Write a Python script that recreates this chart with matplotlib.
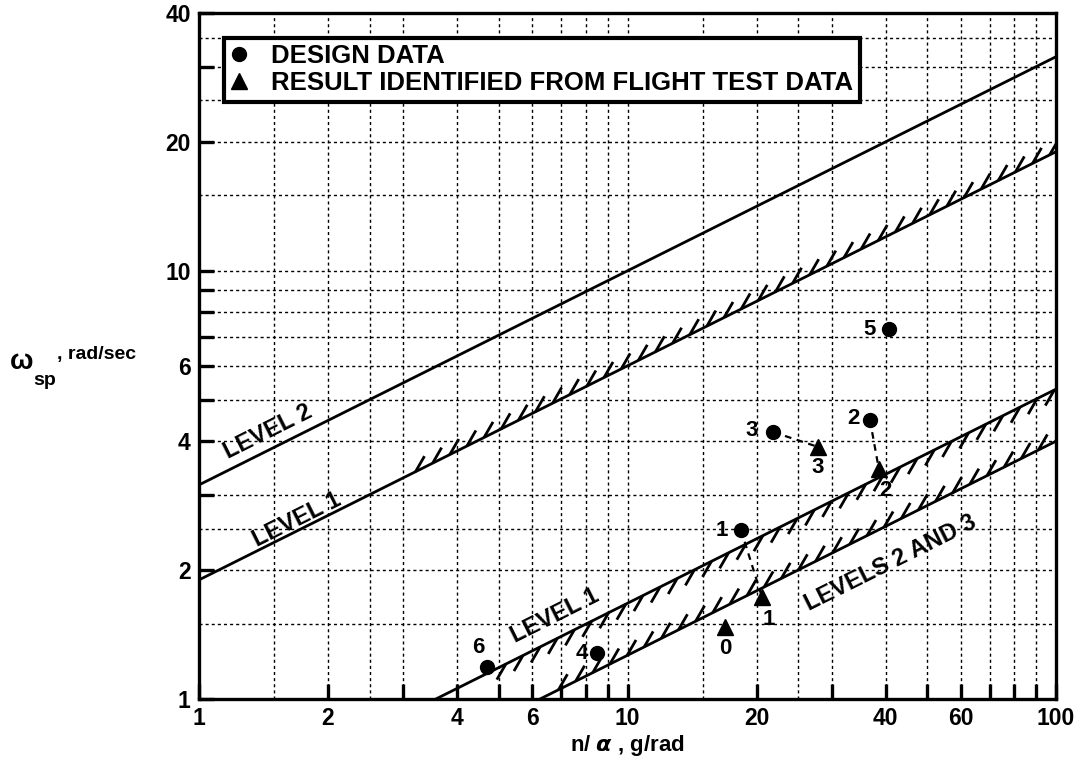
import numpy as np
import matplotlib
matplotlib.use('Agg')
import matplotlib.pyplot as plt
from matplotlib.collections import LineCollection
from matplotlib.lines import Line2D

plt.rcParams['font.family'] = ['Liberation Sans', 'DejaVu Sans']
plt.rcParams['font.weight'] = 'bold'
plt.rcParams['mathtext.default'] = 'regular'

# boundary lines, omega_sp = sqrt(CAP * n/alpha)
cap_level2_upper = 10.0
cap_level1_upper = 3.6
cap_level1_lower = 0.28
cap_level23_lower = 0.16

# design data (circles)
design_ids = ['1', '2', '3', '4', '5', '6']
design_n_alpha = [18.4, 36.8, 21.9, 8.5, 40.8, 4.7]
design_omega = [2.48, 4.48, 4.20, 1.28, 7.31, 1.19]

# identified from flight test (triangles)
flight_ids = ['0', '1', '2', '3']
flight_n_alpha = [16.9, 20.6, 38.6, 27.8]
flight_omega = [1.47, 1.73, 3.44, 3.88]

# design point -> flight point
pairs = [('1', '1'), ('2', '2'), ('3', '3')]

x_ticks = [1, 2, 4, 6, 10, 20, 40, 60, 100]
x_minor = [3, 5, 7, 8, 9, 30, 50, 70, 80, 90]
y_ticks = [1, 2, 4, 6, 10, 20, 40]
y_minor = [3, 5, 7, 8, 9, 30]
x_grid = [1.5, 2, 2.5, 3, 4, 5, 6, 7, 8, 9, 10, 15, 20, 25, 30, 40, 50, 60, 70, 80, 90]
y_grid = [1.5, 2, 2.5, 3, 4, 5, 6, 7, 8, 9, 10, 15, 20, 25, 30, 35]

fig = plt.figure(figsize=(10.87, 7.65), dpi=100)
ax = fig.add_axes([0.1831, 0.0863, 0.7884, 0.8967])
ax.set_xscale('log')
ax.set_yscale('log')
ax.set_xlim(1, 100)
ax.set_ylim(1, 40)

for v in x_grid:
    ax.axvline(v, color='black', lw=1.0, ls=(0, (2.2, 2.2)), zorder=1)
for v in y_grid:
    ax.axhline(v, color='black', lw=1.0, ls=(0, (2.2, 2.2)), zorder=1)

xx = np.array([1.0, 100.0])
for cap in [cap_level2_upper, cap_level1_upper, cap_level1_lower, cap_level23_lower]:
    ax.plot(xx, np.sqrt(cap * xx), color='black', lw=2.0, zorder=3)


def hatch(cap, x_start, side, step=0.04, length=0.042, ang=60):
    # short slanted strokes along a boundary, computed in log space
    segs = []
    a = np.radians(ang)
    for lx in np.arange(np.log10(x_start), 2.0, step):
        ly = 0.5 * np.log10(cap) + 0.5 * lx
        lx2 = lx + side * length * np.cos(a)
        ly2 = ly + side * length * np.sin(a)
        segs.append([(10 ** lx, 10 ** ly), (10 ** lx2, 10 ** ly2)])
    ax.add_collection(LineCollection(segs, colors='black', linewidths=2.0, zorder=3))


hatch(cap_level1_upper, 3.2, +1)
hatch(cap_level1_lower, 5.2, -1)
hatch(cap_level23_lower, 6.9, +1)

# dashed links design -> flight
for d, f in pairs:
    i = design_ids.index(d)
    j = flight_ids.index(f)
    ax.plot([design_n_alpha[i], flight_n_alpha[j]], [design_omega[i], flight_omega[j]],
            color='black', lw=1.6, ls=(0, (3, 2.5)), zorder=4)

ax.plot(design_n_alpha, design_omega, 'o', color='black', ms=10, zorder=5)
ax.plot(flight_n_alpha, flight_omega, '^', color='black', ms=11, zorder=5)

design_off = {'1': (-14, 0), '2': (-12, 1), '3': (-16, 1), '4': (-11, 0), '5': (-14, 0), '6': (-6, 14)}
flight_off = {'0': (0, -15), '1': (5, -16), '2': (5, -15), '3': (0, -15)}
for k, x, y in zip(design_ids, design_n_alpha, design_omega):
    ax.annotate(k, (x, y), xytext=design_off[k], textcoords='offset points',
                ha='center', va='center', fontsize=16, fontweight='bold', zorder=6)
for k, x, y in zip(flight_ids, flight_n_alpha, flight_omega):
    ax.annotate(k, (x, y), xytext=flight_off[k], textcoords='offset points',
                ha='center', va='center', fontsize=16, fontweight='bold', zorder=6)

# boundary labels
rot = np.degrees(np.arctan(0.5))
lab_kw = dict(rotation=rot, ha='center', va='center', fontsize=17, fontweight='bold', rotation_mode='anchor')
ax.text(1.45, 4.2, 'LEVEL 2', **lab_kw)
ax.text(1.69, 2.62, 'LEVEL 1', **lab_kw)
ax.text(6.77, 1.56, 'LEVEL 1', **lab_kw)
ax.text(41.0, 2.08, 'LEVELS 2 AND 3', **lab_kw)

# axes, ticks
for s in ax.spines.values():
    s.set_linewidth(2.4)
ax.set_xticks(x_ticks)
ax.set_xticklabels([str(v) for v in x_ticks])
ax.set_xticks(x_minor, minor=True)
ax.set_yticks(y_ticks)
ax.set_yticklabels([str(v) for v in y_ticks])
ax.set_yticks(y_minor, minor=True)
ax.xaxis.set_minor_formatter(matplotlib.ticker.NullFormatter())
ax.yaxis.set_minor_formatter(matplotlib.ticker.NullFormatter())
ax.tick_params(which='both', direction='in', length=11, width=2.4, labelsize=16.5, pad=6)
for lab in ax.get_xticklabels() + ax.get_yticklabels():
    lab.set_fontweight('bold')

ax.set_xlabel(r'n/ $\mathit{\alpha}$ , g/rad', fontsize=16, fontweight='bold', labelpad=2)
fig.text(0.008, 0.527, r'$\omega$', fontsize=20, ha='left', va='center')
fig.text(0.031, 0.503, 'sp', fontsize=14, ha='left', va='center', fontweight='bold')
fig.text(0.052, 0.536, ', rad/sec', fontsize=14, ha='left', va='center', fontweight='bold')

handles = [Line2D([], [], marker='o', color='black', ls='none', ms=10),
           Line2D([], [], marker='^', color='black', ls='none', ms=11)]
leg = ax.legend(handles, ['DESIGN DATA', 'RESULT IDENTIFIED FROM FLIGHT TEST DATA'],
                loc='upper left', bbox_to_anchor=(0.029, 0.964), borderaxespad=0,
                fancybox=False, framealpha=1, edgecolor='black',
                handlelength=0.7, handletextpad=0.9, borderpad=0.25, labelspacing=0.12,
                prop={'weight': 'bold', 'size': 18.5})
leg.get_frame().set_linewidth(3)
leg.set_zorder(10)

fig.savefig('out.png', dpi=100, facecolor='white')
